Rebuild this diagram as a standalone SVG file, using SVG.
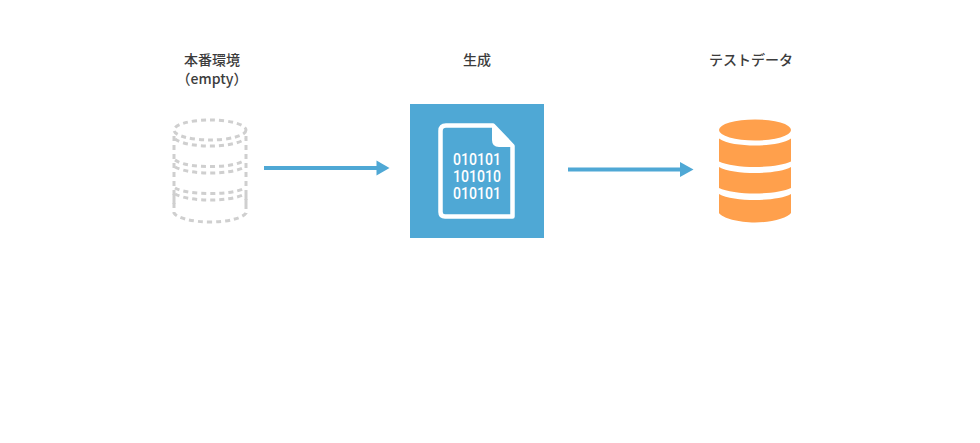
<svg xmlns="http://www.w3.org/2000/svg" width="980" height="443" viewBox="0 0 980 443">
<style>
.t{font-family:"Noto Sans CJK JP","Noto Sans",sans-serif;font-size:14px;font-weight:500;fill:#3c3c3c;text-anchor:middle}
.d{fill:none;stroke:#cfcfcf;stroke-width:3;stroke-dasharray:5 4}
.o{fill:#ffa04c}
.b{font-family:"Roboto","Liberation Sans",sans-serif;font-size:16.5px;font-weight:500;fill:#fff;text-anchor:middle}
.c{fill:none;stroke:#4fa8d5;stroke-width:4}
.h{fill:#4fa8d5}
</style>
<rect width="980" height="443" fill="#fff"/>
<g id="connectors">
<path class="c" d="M264 168H378"/><path class="h" d="M376.500 160.500L389.500 168L376.500 175.500Z"/>
<path class="c" d="M568 169.500H682"/><path class="h" d="M680 162L693.500 169.500L680 177Z"/>
</g>
<g id="source">
<text class="t" x="212" y="65">本番環境</text>
<text class="t" x="212" y="84">（empty）</text>
<ellipse class="d" cx="210" cy="130" rx="36" ry="10"/>
<path class="d" d="M174 136V208"/>
<path class="d" d="M246 136V208"/>
<path class="d" d="M175 139C182 144 196 146 210 146C224 146 238 144 245 139"/>
<path class="d" d="M175 160C182 165 196 166.500 210 166.500C224 166.500 238 165 245 160"/>
<path class="d" d="M175 167C182 171 196 173 210 173C224 173 238 171 245 167"/>
<path class="d" d="M175 188C182 192 196 193.500 210 193.500C224 193.500 238 192 245 188"/>
<path class="d" d="M175 194C182 198 196 200 210 200C224 200 238 198 245 194"/>
<path class="d" d="M174 194V213C177 218 192 222 210 222C228 222 243 218 246 213V194"/>
</g>
<g id="generate">
<text class="t" x="477" y="65">生成</text>
<rect x="410" y="104" width="134" height="134" fill="#4fa8d5"/>
<path d="M446 125.500H493L512.500 146V216.500H445Q440.500 216.500 440.500 212V131Q440.500 125.500 446 125.500Z" fill="none" stroke="#fff" stroke-width="4.500" stroke-linejoin="round"/>
<path d="M493 126V140Q493 146 499 146H513Z" fill="#fff" stroke="#fff" stroke-width="2" stroke-linejoin="round"/>
<text class="b" x="477" y="165" textLength="48" lengthAdjust="spacingAndGlyphs">010101</text>
<text class="b" x="477" y="182" textLength="48" lengthAdjust="spacingAndGlyphs">101010</text>
<text class="b" x="477" y="199" textLength="48" lengthAdjust="spacingAndGlyphs">010101</text>
</g>
<g id="testdata">
<text class="t" x="751" y="65">テストデータ</text>
<ellipse class="o" cx="755" cy="130" rx="36" ry="10.500"/>
<path class="o" d="M719 138.500C726 143.500 741 145.500 755 145.500C769 145.500 784 143.500 791 138.500V161.500C784 165 769 167 755 167C741 167 726 165 719 161.500Z"/>
<path class="o" d="M719 167C726 171 741 173 755 173C769 173 784 171 791 167V188C784 191.500 769 193.500 755 193.500C741 193.500 726 191.500 719 188Z"/>
<path class="o" d="M719 194C726 198 741 200 755 200C769 200 784 198 791 194V213C788 218 771 222.500 755 222.500C739 222.500 722 218 719 213Z"/>
</g>
</svg>
